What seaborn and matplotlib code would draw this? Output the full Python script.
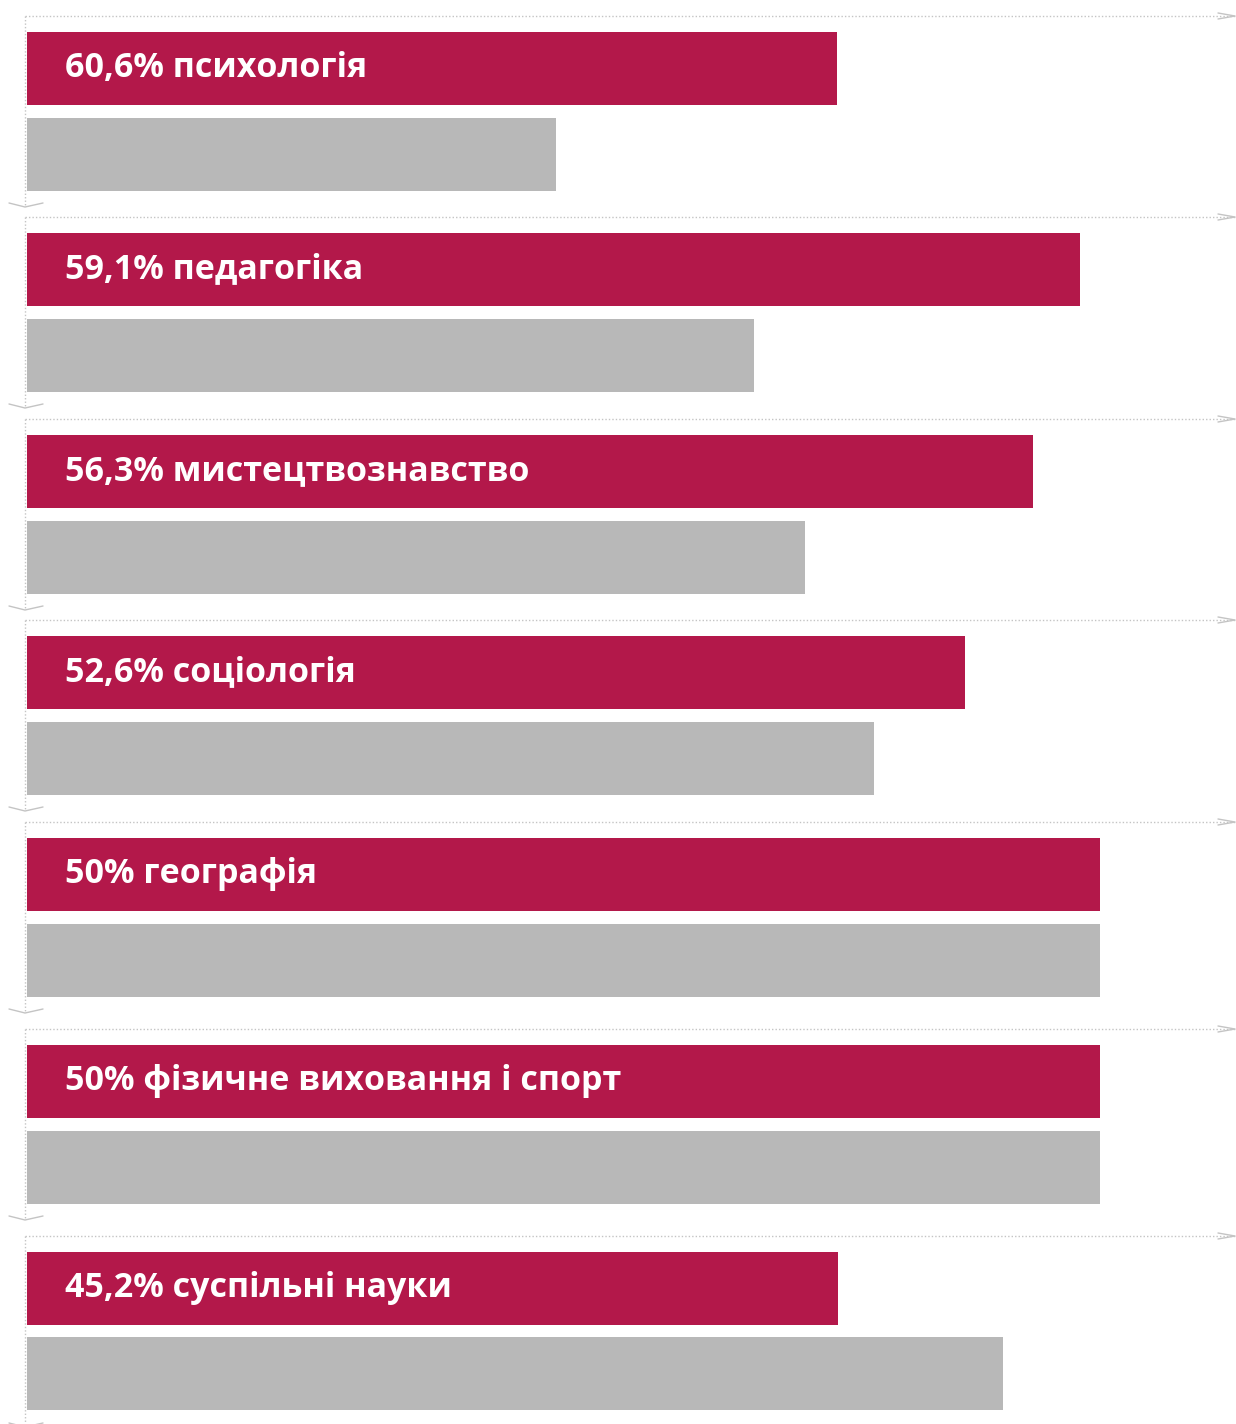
import numpy as np
import pandas as pd
import matplotlib.pyplot as plt
import seaborn as sns

# ---------------------------
# data (bar lengths, geography = 100)
# ---------------------------
labels = ["60,6% психологія", "59,1% педагогіка", "56,3% мистецтвознавство",
          "52,6% соціологія", "50% географія", "50% фізичне виховання і спорт",
          "45,2% суспільні науки"]
red_vals = [75.5, 98.1, 93.8, 87.4, 100.0, 100.0, 75.6]
gray_vals = [49.3, 67.8, 72.5, 78.9, 100.0, 100.0, 91.0]

RED = "#b3184a"
GRAY = "#b8b8b8"
LINE = "#c4c4c4"

W, H = 1236, 1424
sns.set_theme(style="white")
plt.rcParams["font.family"] = ["Open Sans", "DejaVu Sans"]

fig = plt.figure(figsize=(W / 100, H / 100), dpi=100)

# overlay in pixel coords for the dotted frames / chevrons
deco = fig.add_axes([0, 0, 1, 1])
deco.set_xlim(0, W)
deco.set_ylim(H, 0)
deco.axis("off")

panel_tops = [16, 217, 419, 620, 822, 1029, 1236]
PANEL_H = 190
px_per_unit = 10.73
x0_px = 27            # where bars start
ax_left, ax_right = 25, 1235
unit_h = 85.3         # px between bar centres
red_c = 52.7          # red bar centre below panel top

for i, top in enumerate(panel_tops):
    ax = fig.add_axes([ax_left / W, 1 - (top + PANEL_H) / H,
                       (ax_right - ax_left) / W, PANEL_H / H])
    df = pd.DataFrame({"grp": ["a", "b"], "val": [red_vals[i], gray_vals[i]]})
    sns.barplot(data=df, x="val", y="grp", hue="grp", palette=[RED, GRAY],
                orient="h", width=73 / unit_h, linewidth=0, saturation=1,
                legend=False, ax=ax)
    ax.set_xlim(-(x0_px - ax_left) / px_per_unit, (ax_right - x0_px) / px_per_unit)
    ax.set_ylim(1 + (PANEL_H - red_c - unit_h) / unit_h, -red_c / unit_h)
    ax.axis("off")
    ax.patch.set_alpha(0)
    ax.text((65 - x0_px) / px_per_unit, (61 - red_c) / unit_h, labels[i],
            color="white", fontsize=24.5, fontweight="bold", va="baseline", ha="left")

    # dotted top line + right chevron
    deco.plot([25, 1235], [top, top], color=LINE, lw=1, ls=(0, (1, 1.5)))
    deco.plot([1218, 1235, 1218], [top - 3, top, top + 3], color=LINE, lw=1)
    # dotted left line + bottom chevron
    bot = top + PANEL_H + 1
    deco.plot([25, 25], [top, bot], color=LINE, lw=1, ls=(0, (1, 1.5)))
    deco.plot([9, 25, 43], [bot - 4, bot, bot - 4], color=LINE, lw=1)

fig.savefig("out.png", dpi=100)
